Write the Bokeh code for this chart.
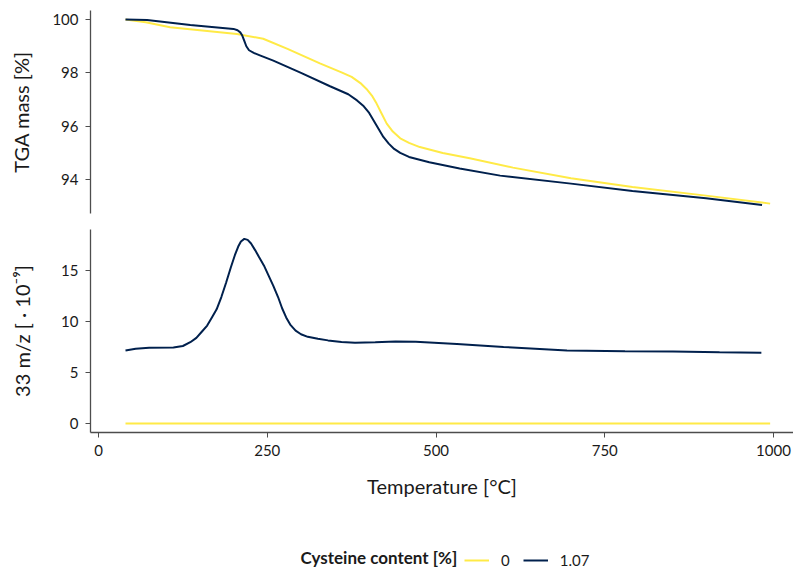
from bokeh.plotting import figure
from bokeh.layouts import column
from bokeh.models import Range1d, FixedTicker, Legend, LegendItem, Label
from bokeh.embed import file_html
from bokeh.resources import INLINE

# ---- data ----
t_tga_0 = [40, 70, 106, 150, 205, 244, 280, 328, 360, 375, 388, 397, 405, 412, 419, 427, 436, 447, 460, 476, 510, 550, 614, 700, 791, 900, 995]
tga_0 = [100.0, 99.9, 99.71, 99.6, 99.46, 99.28, 98.9, 98.36, 98.02, 97.85, 97.62, 97.4, 97.15, 96.85, 96.5, 96.1, 95.8, 95.55, 95.38, 95.22, 95.0, 94.8, 94.45, 94.05, 93.72, 93.4, 93.1]

t_tga_107 = [40, 72, 136, 200, 206, 210, 213, 216, 219, 223, 230, 240, 259, 300, 343, 370, 383, 393, 401, 408, 415, 422, 430, 438, 447, 460, 490, 535, 595, 700, 791, 900, 983]
tga_107 = [100.0, 99.98, 99.8, 99.65, 99.6, 99.52, 99.4, 99.2, 99.0, 98.85, 98.75, 98.65, 98.46, 98.0, 97.5, 97.2, 96.97, 96.75, 96.5, 96.2, 95.9, 95.6, 95.35, 95.15, 95.0, 94.85, 94.65, 94.42, 94.15, 93.85, 93.57, 93.3, 93.05]

t_ms_0 = [40, 995]
ms_0 = [0.0, 0.0]

t_ms_107 = [40, 55, 75, 111, 125, 136, 145, 153, 161, 168, 175, 182, 189, 196, 202, 207, 211, 216, 221, 226, 232, 238, 245, 252, 259, 266, 272, 278, 284, 292, 300, 310, 325, 340, 360, 380, 410, 440, 470, 531, 600, 694, 780, 851, 920, 982]
ms_107 = [7.15, 7.33, 7.42, 7.45, 7.6, 7.97, 8.4, 9.0, 9.6, 10.4, 11.2, 12.4, 13.8, 15.3, 16.5, 17.35, 17.85, 18.1, 18.0, 17.65, 17.0, 16.3, 15.5, 14.5, 13.5, 12.4, 11.3, 10.4, 9.7, 9.1, 8.75, 8.5, 8.3, 8.15, 8.0, 7.93, 7.97, 8.05, 8.02, 7.8, 7.5, 7.16, 7.08, 7.06, 6.98, 6.93]

x_ticks = [0, 250, 500, 750, 1000]
tga_ticks = [94, 96, 98, 100]
ms_ticks = [0, 5, 10, 15]

legend_title = "Cysteine content [%]"
series_labels = ["0", "1.07"]
colors = ["#FFEA46", "#00204D"]

FONT = "Lato"
AXIS_COLOR = "#4d4d4d"
TEXT_COLOR = "#1a1a1a"


def style(p):
    p.outline_line_color = None
    p.xgrid.visible = False
    p.ygrid.visible = False
    for ax in p.axis:
        ax.axis_line_color = AXIS_COLOR
        ax.axis_line_width = 1.3
        ax.major_tick_line_color = AXIS_COLOR
        ax.major_tick_line_width = 1
        ax.major_tick_out = 5
        ax.major_tick_in = 0
        ax.minor_tick_line_color = None
        ax.major_label_text_font = FONT
        ax.major_label_text_font_size = "15px"
        ax.major_label_text_color = TEXT_COLOR
        ax.major_label_standoff = 7
        ax.axis_label_text_font = FONT
        ax.axis_label_text_font_size = "20px"
        ax.axis_label_text_font_style = "normal"
        ax.axis_label_text_color = TEXT_COLOR


top = figure(frame_width=703, frame_height=203,
             x_range=Range1d(-11.85, 1029.6), y_range=Range1d(92.73, 100.34),
             output_backend="svg", toolbar_location=None,
             min_border_left=90, min_border_right=0, min_border_top=10, min_border_bottom=8)
top.xaxis.visible = False
top.yaxis.ticker = FixedTicker(ticks=tga_ticks)
top.yaxis.axis_label = "TGA mass [%]"
top.line(t_tga_0, tga_0, line_color=colors[0], line_width=2)
top.line(t_tga_107, tga_107, line_color=colors[1], line_width=2)
style(top)
top.yaxis.axis_label_standoff = 16

bot = figure(frame_width=703, frame_height=203,
             x_range=Range1d(-11.85, 1029.6), y_range=Range1d(-0.88, 19.02),
             output_backend="svg", toolbar_location=None,
             min_border_left=90, min_border_right=0, min_border_top=8, min_border_bottom=88)
bot.xaxis.ticker = FixedTicker(ticks=x_ticks)
bot.yaxis.ticker = FixedTicker(ticks=ms_ticks)
bot.xaxis.axis_label = "Temperature [°C]"
bot.yaxis.axis_label = "33 m/z [ · 10⁻⁹]"
bot.line(t_ms_0, ms_0, line_color=colors[0], line_width=2)
bot.line(t_ms_107, ms_107, line_color=colors[1], line_width=2)
style(bot)
bot.xaxis.axis_label_standoff = 15
bot.yaxis.axis_label_standoff = 24

# legend strip (its lines lie outside this strip's ranges, so only the legend glyphs show)
leg = figure(frame_width=703, frame_height=49,
             x_range=Range1d(-3000, -2000), y_range=Range1d(-3000, -2000),
             x_axis_type=None, y_axis_type=None,
             output_backend="svg", toolbar_location=None,
             min_border_left=90, min_border_right=0, min_border_top=0, min_border_bottom=0)
leg.outline_line_color = None
leg.xgrid.visible = False
leg.ygrid.visible = False
r0 = leg.line(t_ms_0, ms_0, line_color=colors[0], line_width=2)
r1 = leg.line(t_ms_107, ms_107, line_color=colors[1], line_width=2)

legend = Legend(items=[LegendItem(label=series_labels[0], renderers=[r0]),
                       LegendItem(label=series_labels[1], renderers=[r1])],
                orientation="horizontal", location=(374, 0),
                label_text_font=FONT, label_text_font_size="15px", label_text_color=TEXT_COLOR,
                glyph_width=25, glyph_height=16, label_standoff=12, spacing=13, label_width=5,
                border_line_color=None, background_fill_alpha=0, padding=4, margin=0)
leg.add_layout(legend, "center")

title = Label(x=210, y=12, x_units="screen", y_units="screen", text=legend_title,
              text_font=FONT, text_font_size="17px", text_font_style="bold",
              text_color=TEXT_COLOR, text_baseline="middle")
leg.add_layout(title)

layout = column(top, bot, leg, spacing=0)
open("out.html", "w").write(file_html(layout, INLINE))
